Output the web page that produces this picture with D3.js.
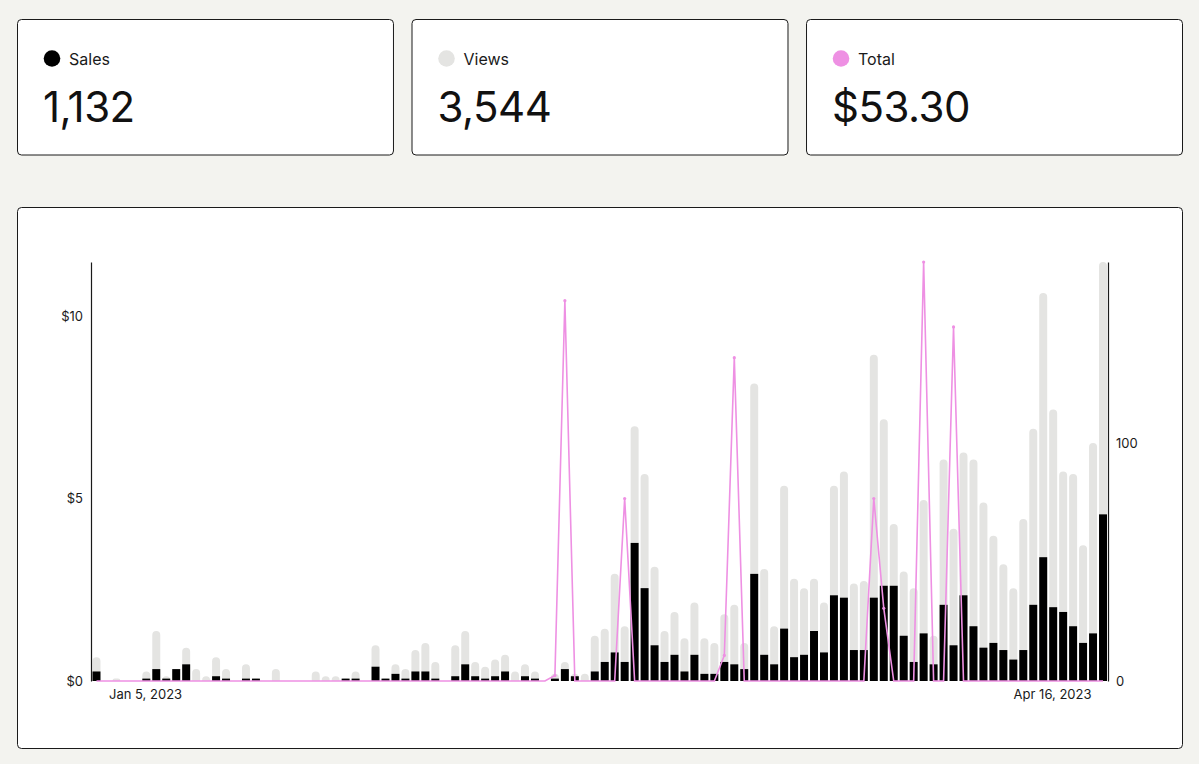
<!DOCTYPE html>
<html><head><meta charset="utf-8">
<script src="https://cdn.jsdelivr.net/npm/d3@7"></script>
<style>
html,body{margin:0;padding:0;background:#f3f3ef;}
svg{display:block;font-family:Inter,"Noto Sans",sans-serif;}
</style></head><body>
<svg id="c" width="1199" height="764"></svg>
<script>
// ---- data ----
const startDate = "2023-01-05";
const endDate = "2023-04-16";
const views = [
  10,0,1,0,0,4,21,2,5,14,
  5,2,10,5,0,7,1,0,5,0,
  0,0,4,2,2,1,4,0,15,1,
  7,5,13,16,8,0,15,21,8,6,
  9,11,4,7,4,0,3,8,3,3,
  19,22,45,23,107,87,48,21,29,18,
  33,18,16,28,32,16,125,47,23,82,
  43,39,43,33,82,88,41,42,137,110,
  66,46,39,76,19,93,64,96,93,75,
  61,49,39,68,106,163,114,88,87,57,
  100,176];
const sales = [
  4,0,0,0,0,1,5,1,5,7,
  0,0,2,1,0,1,1,0,0,0,
  0,0,0,0,0,1,1,0,6,1,
  3,1,4,4,1,0,2,7,2,1,
  2,4,0,2,1,0,1,5,2,0,
  4,8,12,8,58,39,15,8,11,4,
  11,3,3,8,7,5,45,11,7,22,
  10,11,21,12,36,35,13,13,35,40,
  40,19,8,20,7,32,15,36,23,14,
  16,13,9,13,32,52,31,29,23,16,
  20,70];
const total = [
  0,0,0,0,0,0,0,0,0,0,
  0,0,0,0,0,0,0,0,0,0,
  0,0,0,0,0,0,0,0,0,0,
  0,0,0,0,0,0,0,0,0,0,
  0,0,0,0,0,0,0.15,10.42,0,0,
  0,0,0,5.00,0,0,0,0,0,0,
  0,0,0,0.70,8.86,0,0,0,0,0,
  0,0,0,0,0,0,0,0,5.00,1.99,
  0,0,0,11.48,0,0,9.70,0,0,0,
  0,0,0,0,0,0,0,0,0,0,
  0,0];
const seriesNames = ["Sales","Views","Total"];
const seriesColors = ["#000000","#e4e4e2","#ee90e3"];
const leftTicks = [0,5,10];
const rightTicks = [0,100];
const xTickLabels = ["Jan 5, 2023","Apr 16, 2023"];

// ---- derived ----
const parse = d3.timeParse("%Y-%m-%d");
const dates = d3.timeDay.range(parse(startDate), d3.timeDay.offset(parse(endDate), 1));
const kpiValues = [
  d3.format(",")(d3.sum(sales)),
  d3.format(",")(d3.sum(views)),
  d3.format("$.2f")(d3.sum(total))
];

const svg = d3.select("#c");
const ink = "#1a1a1a";

// ---- KPI cards ----
const cardX = d3.scaleBand().domain(seriesNames).range([17.5, 1182.5]).paddingInner(0.047);
const cards = svg.selectAll("g.card").data(seriesNames).join("g")
  .attr("class","card")
  .attr("transform", d => `translate(${cardX(d)},19.5)`);
cards.append("rect")
  .attr("width", cardX.bandwidth()).attr("height", 135.5)
  .attr("rx", 4).attr("fill", "#fff").attr("stroke", ink).attr("stroke-width", 1);
cards.append("circle")
  .attr("cx", 34.5).attr("cy", 39).attr("r", 8.3)
  .attr("fill", (d,i) => seriesColors[i]);
cards.append("text")
  .attr("x", 51.5).attr("y", 45.5)
  .attr("font-size", 16).attr("fill", ink)
  .text(d => d);
cards.append("text")
  .attr("x", 25.5).attr("y", 102.5)
  .attr("font-size", 42).attr("fill", "#111").attr("letter-spacing", "-0.5")
  .text((d,i) => kpiValues[i]);

// ---- chart card ----
svg.append("rect")
  .attr("x", 17.5).attr("y", 207.5).attr("width", 1165).attr("height", 541)
  .attr("rx", 4).attr("fill", "#fff").attr("stroke", ink).attr("stroke-width", 1);

const x = d3.scaleBand().domain(dates).range([91.5, 1108]).paddingInner(0.2).paddingOuter(0.1);
const yR = d3.scaleLinear().domain([0, d3.max(views)]).range([681, 262]);
const yL = d3.scaleLinear().domain([0, d3.max(total)]).range([681, 262]);
const bw = x.bandwidth();

function roundTop(x0, y0, w, h) {
  if (h <= 0) return "";
  const r = Math.min(w/2, h);
  return `M${x0},${y0+h}V${y0+r}A${r},${r} 0 0 1 ${x0+r},${y0}H${x0+w-r}A${r},${r} 0 0 1 ${x0+w},${y0+r}V${y0+h}Z`;
}

svg.append("g").selectAll("path").data(dates).join("path")
  .attr("d", (d,i) => roundTop(x(d), yR(views[i]), bw, yR(0) - yR(views[i])))
  .attr("fill", seriesColors[1]);

svg.append("g").selectAll("rect").data(dates).join("rect")
  .attr("x", d => x(d)).attr("width", bw)
  .attr("y", (d,i) => yR(sales[i]))
  .attr("height", (d,i) => yR(0) - yR(sales[i]))
  .attr("fill", seriesColors[0]);

const line = d3.line()
  .x((d,i) => x(dates[i]) + bw/2)
  .y(d => yL(d));
svg.append("path").datum(total)
  .attr("d", line).attr("fill", "none")
  .attr("stroke", seriesColors[2]).attr("stroke-width", 1.6).attr("stroke-linejoin","miter");
const pts = total.map((v,i) => ({v, d: dates[i]})).filter(p => p.v > 0);
svg.append("g").selectAll("circle").data(pts).join("circle")
  .attr("cx", p => x(p.d) + bw/2).attr("cy", p => yL(p.v)).attr("r", 1.6)
  .attr("fill", seriesColors[2]);

// ---- axes ----
const axL = svg.append("g").attr("transform", "translate(91,0)")
  .call(d3.axisLeft(yL).tickValues(leftTicks).tickSize(0).tickPadding(8).tickFormat(d => "$" + d));
const axR = svg.append("g").attr("transform", "translate(1108,0)")
  .call(d3.axisRight(yR).tickValues(rightTicks).tickSize(0).tickPadding(8));
[axL, axR].forEach(a => {
  a.select(".domain").attr("stroke", ink).attr("stroke-width", 1.2);
  a.selectAll("text").attr("font-size", 13).attr("fill", ink).attr("font-family", "Inter,'Noto Sans',sans-serif");
});

// x labels: first and last date
const xl = svg.append("g").attr("font-size", 13).attr("fill", ink);
xl.append("text")
  .attr("x", x(dates[0]) + 16.5).attr("y", 699).attr("text-anchor", "start")
  .text(xTickLabels[0]);
xl.append("text")
  .attr("x", x(dates[dates.length-1]) + bw - 15.5).attr("y", 699).attr("text-anchor", "end")
  .text(xTickLabels[1]);
</script>
</body></html>
